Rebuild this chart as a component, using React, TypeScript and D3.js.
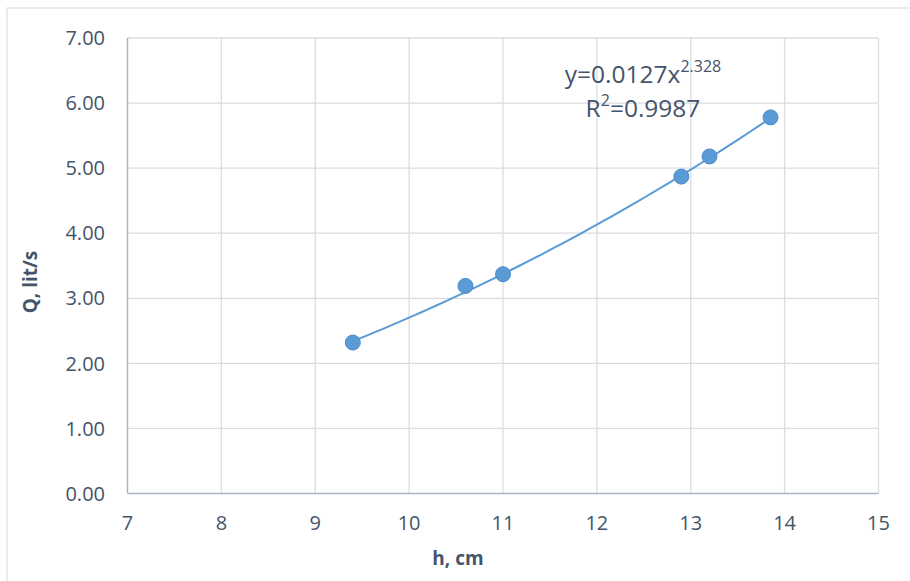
import React from "react";
import * as d3 from "d3";

const hValues = [9.4, 10.6, 11.0, 12.9, 13.2, 13.85];
const qValues = [2.32, 3.19, 3.37, 4.87, 5.18, 5.78];
const xTicks = [7, 8, 9, 10, 11, 12, 13, 14, 15];
const yTicks = [0, 1, 2, 3, 4, 5, 6, 7];
const trendCoef = 0.0127;
const trendExp = 2.328;
const rSquared = "0.9987";

const W = 910;
const H = 581;
const left = 127.5;
const right = 878.5;
const top = 38;
const bottom = 493.5;
const font = "'Open Sans', 'Noto Sans', sans-serif";
const textColor = "#44546A";

export default function App() {
  const x = d3.scaleLinear().domain([7, 15]).range([left, right]);
  const y = d3.scaleLinear().domain([0, 7]).range([bottom, top]);
  const [h0, h1] = d3.extent(hValues) as [number, number];
  const trend = d3.range(0, 61).map((i) => {
    const h = h0 + ((h1 - h0) * i) / 60;
    return [h, trendCoef * Math.pow(h, trendExp)] as [number, number];
  });
  const line = d3
    .line<[number, number]>()
    .x((d) => x(d[0]))
    .y((d) => y(d[1]))
    .curve(d3.curveMonotoneX);

  return (
    <svg
      width={W}
      height={H}
      style={{ position: "absolute", left: 0, top: 0, background: "#fff" }}
      fontFamily={font}
    >
      <rect x={7} y={8} width={920} height={600} fill="#fff" stroke="#D9D9D9" strokeWidth={1} />
      {xTicks.slice(1).map((t) => (
        <line key={"gx" + t} x1={x(t)} x2={x(t)} y1={top} y2={bottom} stroke="#D9DDE3" strokeWidth={1.3} />
      ))}
      {yTicks.slice(1).map((t) => (
        <line key={"gy" + t} x1={left} x2={right} y1={y(t)} y2={y(t)} stroke="#D9DDE3" strokeWidth={1.3} />
      ))}
      <line x1={left} x2={left} y1={top} y2={bottom} stroke="#A9B4C6" strokeWidth={1.5} />
      <line x1={left} x2={right} y1={bottom} y2={bottom} stroke="#A9B4C6" strokeWidth={1.5} />
      {yTicks.map((t) => (
        <text key={"yl" + t} x={105} y={y(t)} dy="0.36em" textAnchor="end" fontSize={20} fill={textColor}>
          {t.toFixed(2)}
        </text>
      ))}
      {xTicks.map((t) => (
        <text key={"xl" + t} x={x(t)} y={530} textAnchor="middle" fontSize={20} fill={textColor}>
          {t}
        </text>
      ))}
      <text
        x={0}
        y={0}
        transform={`translate(37, 282) rotate(-90)`}
        textAnchor="middle"
        fontSize={19}
        fontWeight="bold"
        fill={textColor}
      >
        Q, lit/s
      </text>
      <text x={458} y={565} textAnchor="middle" fontSize={19} fontWeight="bold" fill={textColor}>
        h, cm
      </text>
      <path d={line(trend) || ""} fill="none" stroke="#5B9BD5" strokeWidth={2} />
      {hValues.map((h, i) => (
        <circle key={"p" + i} cx={x(h)} cy={y(qValues[i])} r={7.5} fill="#5B9BD5" stroke="#4A8ACB" strokeWidth={1} />
      ))}
      <text x={643} y={83} textAnchor="middle" fontSize={24.5} fill={textColor}>
        {`y=${trendCoef}x`}
        <tspan dy={-11} fontSize={16}>{String(trendExp)}</tspan>
      </text>
      <text x={643} y={117} textAnchor="middle" fontSize={24.5} fill={textColor}>
        R<tspan dy={-11} fontSize={16}>2</tspan>
        <tspan dy={11}>{`=${rSquared}`}</tspan>
      </text>
    </svg>
  );
}
